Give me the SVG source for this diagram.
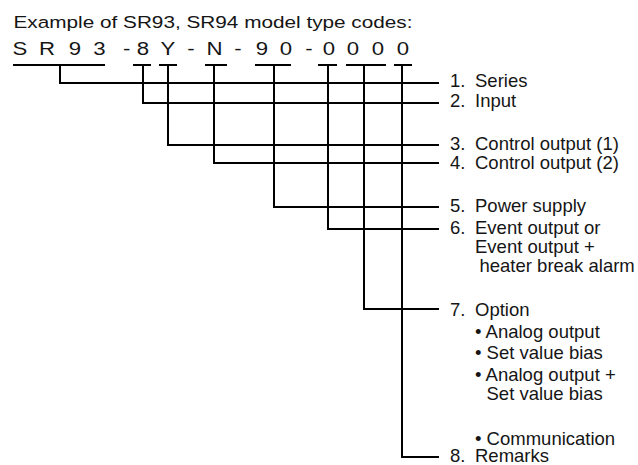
<svg xmlns="http://www.w3.org/2000/svg" width="638" height="465" viewBox="0 0 638 465">
<style>
text{font-family:"Liberation Sans",Arial,Helvetica,sans-serif;fill:#151515}
.lbl{font-size:18.5px}
.code{font-size:18.5px;text-anchor:middle}
.ln{fill:none;stroke:#000;stroke-width:2}
</style>
<rect width="638" height="465" fill="#fff"/>
<g id="title"><text x="13.5" y="27.5" font-size="17.2" textLength="399" lengthAdjust="spacingAndGlyphs">Example of SR93, SR94 model type codes:</text></g>
<g id="code" transform="scale(1.2 1)"><text class="code" y="55" x="16.67 39.17 62.5 82.92 105.5 119.17 140 159.17 178.75 198.33 218.33 238.33 257.5 274.17 294.17 315 335.83">SR93-8Y-N-90-0000</text></g>
<g id="connectors" class="ln">
<path d="M13 65H105M60 65V83H439"/>
<path d="M133 65H151M143 65V103H439"/>
<path d="M159 65H177M168 65V145H439"/>
<path d="M205 65H227M214 65V163H439"/>
<path d="M255 65H291M274 65V207H439"/>
<path d="M318 65H337M328 65V229H439"/>
<path d="M346 65H386M364 65V309H439"/>
<path d="M394 65H412M402 65V457H439"/>
</g>
<g id="label-1" class="lbl"><text x="450" y="86.5">1.</text><text x="475" y="86.5">Series</text></g>
<g id="label-2" class="lbl"><text x="450" y="107">2.</text><text x="475" y="107">Input</text></g>
<g id="label-3" class="lbl"><text x="450" y="150">3.</text><text x="475" y="150">Control output (1)</text></g>
<g id="label-4" class="lbl"><text x="450" y="168.5">4.</text><text x="475" y="168.5">Control output (2)</text></g>
<g id="label-5" class="lbl"><text x="450" y="211.5">5.</text><text x="475" y="211.5">Power supply</text></g>
<g id="label-6" class="lbl"><text x="450" y="234">6.</text><text x="475" y="234">Event output or</text><text x="475" y="253">Event output +</text><text x="479.5" y="272">heater break alarm</text></g>
<g id="label-7" class="lbl"><text x="450" y="315.5">7.</text><text x="475" y="315.5">Option</text><text x="475" y="338">• Analog output</text><text x="475" y="359">• Set value bias</text><text x="475" y="381">• Analog output +</text><text x="486.5" y="399.5">Set value bias</text><text x="475" y="444.5">• Communication</text></g>
<g id="label-8" class="lbl"><text x="450" y="462">8.</text><text x="475" y="462">Remarks</text></g>
</svg>
